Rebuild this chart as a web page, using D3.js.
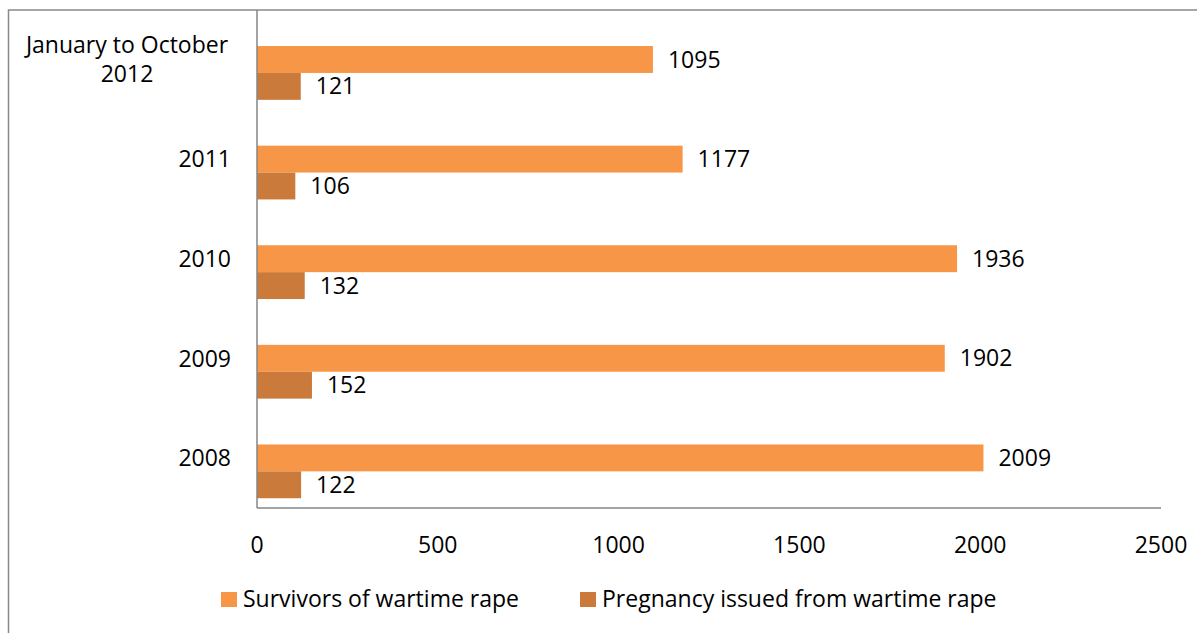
<!DOCTYPE html>
<html>
<head>
<meta charset="utf-8">
<script src="https://cdn.jsdelivr.net/npm/d3@7"></script>
<style>
  body { margin: 0; background: #fff; }
  svg text { font-family: "Open Sans", sans-serif; fill: #000; }
</style>
</head>
<body>
<script>
// categories top to bottom
const categories = ["January to October 2012", "2011", "2010", "2009", "2008"];
const survivors = [1095, 1177, 1936, 1902, 2009];
const pregnancy = [121, 106, 132, 152, 122];
const seriesNames = ["Survivors of wartime rape", "Pregnancy issued from wartime rape"];
const xTicks = [0, 500, 1000, 1500, 2000, 2500];

const width = 1197, height = 633;
const colors = ["#F79646", "#CA7B3B"];
const fs = 23;

const svg = d3.select("body").append("svg")
    .attr("width", width)
    .attr("height", height);

// outer chart border (top + left visible)
svg.append("path")
    .attr("d", "M8.5,633 V10 H1197")
    .attr("fill", "none")
    .attr("stroke", "#898989")
    .attr("stroke-width", 1.5);

const plot = { left: 257, right: 1161, top: 10, bottom: 508 };

const x = d3.scaleLinear().domain([0, 2500]).range([plot.left, plot.right]);
const y = d3.scaleBand().domain(categories).range([plot.top, plot.bottom]);

const bw = y.bandwidth();
const barH = bw * 0.27;
const barOff = bw * 0.362;

const rows = categories.map((c, i) => ({ cat: c, vals: [survivors[i], pregnancy[i]] }));

const g = svg.append("g");

rows.forEach(r => {
    r.vals.forEach((v, j) => {
        const y0 = y(r.cat) + barOff + j * barH;
        g.append("rect")
            .attr("x", x(0))
            .attr("y", y0)
            .attr("width", x(v) - x(0))
            .attr("height", barH)
            .attr("fill", colors[j]);
        g.append("text")
            .attr("x", x(v) + 15)
            .attr("y", y0 + barH / 2)
            .attr("dy", "0.35em")
            .attr("font-size", fs)
            .text(v);
    });
});

// axes lines
svg.append("line")
    .attr("x1", x(0)).attr("x2", x(0))
    .attr("y1", plot.top).attr("y2", plot.bottom)
    .attr("stroke", "#868686").attr("stroke-width", 1.5);
svg.append("line")
    .attr("x1", x(0)).attr("x2", plot.right)
    .attr("y1", plot.bottom).attr("y2", plot.bottom)
    .attr("stroke", "#868686").attr("stroke-width", 1.5);

// x tick labels
svg.selectAll(".xt")
    .data(xTicks)
    .join("text")
    .attr("x", d => x(d))
    .attr("y", 545)
    .attr("dy", "0.35em")
    .attr("text-anchor", "middle")
    .attr("font-size", fs)
    .text(d => d);

// category labels
rows.forEach(r => {
    const cy = y(r.cat) + bw / 2;
    if (r.cat.startsWith("January")) {
        const t = svg.append("text")
            .attr("text-anchor", "middle")
            .attr("font-size", fs);
        t.append("tspan").attr("x", 127).attr("y", cy - 15).attr("dy", "0.35em").text("January to October");
        t.append("tspan").attr("x", 127).attr("y", cy + 14).attr("dy", "0.35em").text("2012");
    } else {
        svg.append("text")
            .attr("x", 231)
            .attr("y", cy)
            .attr("dy", "0.35em")
            .attr("text-anchor", "end")
            .attr("font-size", fs)
            .text(r.cat);
    }
});

// legend
const legendX = [221, 580];
seriesNames.forEach((name, j) => {
    svg.append("rect")
        .attr("x", legendX[j]).attr("y", 592)
        .attr("width", 16).attr("height", 15)
        .attr("fill", colors[j]);
    svg.append("text")
        .attr("x", legendX[j] + 22)
        .attr("y", 599)
        .attr("dy", "0.35em")
        .attr("font-size", fs)
        .text(name);
});
</script>
</body>
</html>
